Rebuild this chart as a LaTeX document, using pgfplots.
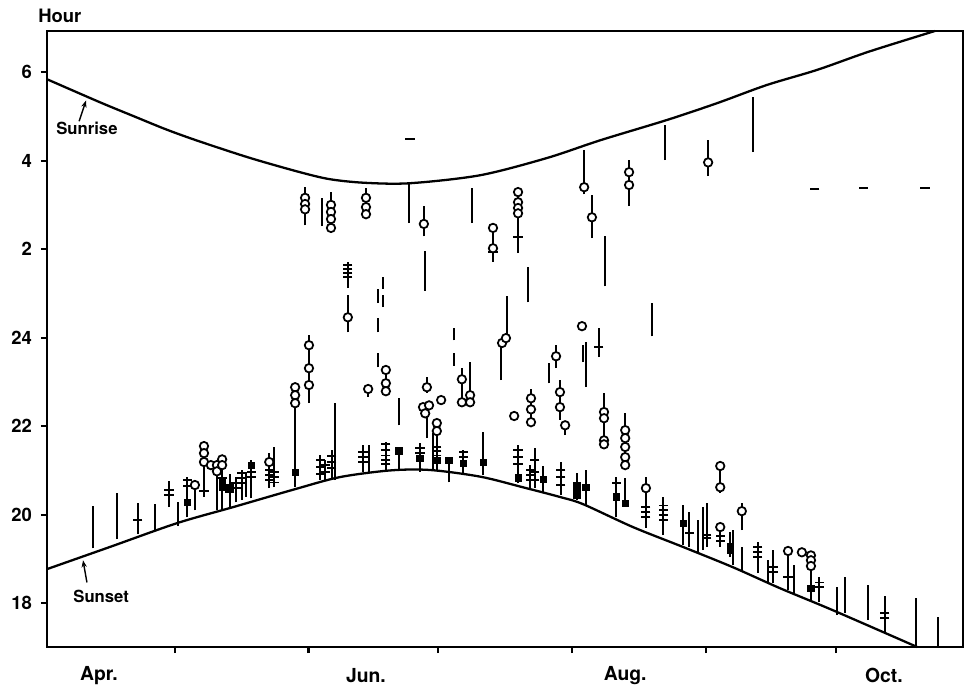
\documentclass[border=0pt]{standalone}
\usepackage{fontspec}
\setmainfont{TeX Gyre Heros}
\usepackage{pgfplots}
\pgfplotsset{compat=1.18}
\usepackage{pgfplotstable}
\usetikzlibrary{arrows.meta}

% x: days after 1 April, y: hour of day (26 = 2 h, 30 = 6 h next morning)
\pgfplotstableread{
d lo hi
11.1 19.24 20.19
16.7 19.45 20.49
21.5 19.56 20.26
25.5 19.63 20.24
28.7 20.17 20.76
30.8 19.74 20.28
32.9 19.94 20.85
34.7 20.10 20.67
36.8 20.40 21.55
39.8 20.10 21.12
41.0 20.10 21.25
42.8 20.15 20.92
44.2 20.28 20.85
45.6 20.33 21.01
46.5 20.40 20.96
47.7 20.37 21.23
51.9 20.60 21.39
53.0 20.62 21.53
57.9 20.62 22.88
60.2 26.54 27.40
61.1 22.52 24.06
63.7 20.78 21.34
64.1 26.52 27.16
64.8 20.78 21.23
66.2 26.38 27.29
66.4 20.83 21.46
67.1 20.78 22.52
70.1 25.12 25.71
70.1 24.12 24.96
73.6 20.96 21.57
74.3 26.72 27.38
74.8 22.66 22.84
75.0 20.94 21.57
77.1 24.78 25.10
77.1 24.12 24.44
77.1 23.33 23.65
78.2 25.10 25.37
78.2 24.69 24.96
78.9 21.01 21.64
78.9 22.77 23.36
81.9 21.01 21.44
81.9 22.02 22.63
84.3 26.59 27.49
86.8 20.96 21.62
87.7 26.29 26.97
88.0 25.06 25.95
88.4 21.73 22.29
88.4 22.75 23.11
89.8 21.01 21.84
90.7 21.01 22.07
93.5 20.73 21.23
94.7 23.94 24.21
94.7 23.36 23.65
96.5 22.52 23.31
96.8 20.89 21.46
98.4 22.52 23.45
98.8 26.59 27.38
101.4 20.89 21.86
103.7 25.71 26.48
105.6 23.04 23.94
106.9 23.94 24.94
109.5 25.91 27.38
109.5 20.71 21.57
111.8 24.80 25.59
112.3 20.55 21.12
112.5 22.02 22.84
113.4 20.60 21.50
115.3 20.49 21.10
116.7 22.97 23.42
118.3 23.31 23.83
119.2 22.14 23.04
119.4 20.44 21.19
120.4 21.80 22.02
123.1 20.33 20.94
124.5 23.45 23.83
124.8 27.24 28.24
125.2 22.88 23.90
125.2 20.21 21.01
126.6 26.25 27.22
128.2 23.56 24.21
129.4 21.53 22.75
129.6 25.16 26.29
132.2 19.94 20.85
134.3 21.05 22.29
134.3 20.21 20.82
135.2 26.97 28.01
139.1 19.70 20.85
140.5 24.03 24.78
143.1 19.54 20.40
143.5 28.01 28.80
147.7 19.31 20.21
149.1 19.27 20.06
151.2 19.15 19.88
152.3 19.20 20.17
153.2 19.27 20.26
153.5 27.65 28.46
156.3 20.49 21.10
156.3 19.27 19.72
158.6 19.04 19.60
159.3 18.86 19.65
161.3 19.65 20.26
161.3 18.70 19.27
163.9 28.19 29.44
165.0 18.68 19.38
167.4 18.45 18.97
168.5 18.45 19.20
172.0 18.29 19.18
173.4 18.23 18.86
177.3 18.07 19.08
179.2 18.02 18.59
183.3 17.73 18.36
185.2 17.77 18.59
190.5 17.62 18.41
194.4 17.32 18.16
201.6 17.02 18.11
206.7 17.02 17.68
}\segs

\pgfplotstableread{
d h
34.7 20.67
36.8 21.55
36.8 21.39
36.8 21.19
38.4 21.12
39.8 21.12
39.8 20.98
41.0 21.25
41.0 21.12
51.9 21.19
57.9 22.88
57.9 22.70
57.9 22.52
60.2 27.16
60.2 27.02
60.2 26.90
61.1 23.83
61.1 23.31
61.1 22.93
66.2 27.00
66.2 26.84
66.2 26.68
66.2 26.48
70.1 24.46
74.3 27.16
74.3 26.95
74.3 26.79
74.8 22.84
78.9 23.27
78.9 22.97
78.9 22.79
87.5 22.43
87.7 26.57
88.0 22.29
88.4 22.88
88.9 22.47
90.7 22.07
90.7 21.89
91.7 22.59
96.5 23.06
96.5 22.54
98.4 22.70
98.4 22.54
103.7 26.48
103.7 26.02
105.8 23.88
106.7 23.99
108.6 22.23
109.5 27.29
109.5 27.06
109.5 26.93
109.5 26.81
112.5 22.63
112.5 22.38
112.5 22.09
118.3 23.58
119.2 22.77
119.2 22.43
120.4 22.02
124.3 24.26
124.8 27.40
126.6 26.72
129.4 22.32
129.4 22.18
129.4 21.68
129.4 21.59
134.3 21.91
134.3 21.73
134.3 21.53
134.3 21.30
134.3 21.12
135.2 27.74
135.2 27.45
139.1 20.60
153.5 27.96
156.3 21.10
156.3 20.62
156.3 19.72
161.3 20.08
172.0 19.18
175.2 19.15
177.3 19.08
177.3 18.97
177.3 18.84
}\circs

\pgfplotstableread{
d h
21.5 19.88
28.7 20.55
28.7 20.44
32.9 20.78
32.9 20.64
36.8 20.53
41.0 20.83
42.8 20.51
44.2 20.71
44.2 20.60
45.6 20.94
45.6 20.83
45.6 20.71
47.7 20.96
47.7 20.85
51.9 21.01
51.9 20.89
51.9 20.78
53.0 20.96
53.0 20.85
53.0 20.73
63.7 21.23
63.7 21.07
63.7 20.92
64.8 21.12
64.8 20.96
66.4 21.32
66.4 21.19
66.4 21.05
70.1 25.64
70.1 25.55
70.1 25.46
70.1 25.37
73.6 21.41
73.6 21.30
73.6 21.19
78.9 21.59
78.9 21.46
78.9 21.34
78.9 21.23
78.9 21.14
84.5 28.49
86.8 21.50
86.8 21.39
90.7 21.53
90.7 21.44
90.7 21.34
96.8 21.41
96.8 21.30
103.7 25.93
109.5 26.27
109.5 21.46
109.5 21.30
109.5 21.14
112.3 21.01
112.3 20.89
112.3 20.78
113.4 21.23
113.4 20.96
113.4 20.78
119.4 21.01
119.4 20.85
119.4 20.67
128.2 23.79
132.2 20.71
139.1 20.17
139.1 20.06
139.1 19.94
143.1 20.21
143.1 20.10
143.1 19.99
143.1 19.88
149.1 19.58
153.2 19.54
153.2 19.47
156.3 19.51
156.3 19.40
165.0 19.27
165.0 19.15
165.0 19.04
168.5 18.81
168.5 18.70
172.0 18.59
178.2 27.36
179.2 18.47
179.2 18.36
189.4 27.38
194.4 17.77
194.4 17.66
203.7 27.38
}\dashes

\pgfplotstableread{
d h
32.9 20.28
41.0 20.73
41.0 20.62
42.8 20.62
47.7 21.12
57.9 20.96
81.9 21.44
86.8 21.28
90.7 21.23
93.5 21.23
96.8 21.16
101.4 21.19
109.5 20.83
115.3 20.80
123.1 20.67
123.1 20.55
123.1 20.44
125.2 20.62
132.2 20.40
134.3 20.26
147.7 19.81
158.6 19.27
158.6 19.20
177.3 18.34
}\blocks

\begin{document}
\begin{tikzpicture}
\begin{axis}[
  scale only axis,
  width=18.32cm, height=12.32cm,
  xmin=0.46, xmax=212.5,
  ymin=17.01, ymax=30.93,
  axis line style={line width=1.6pt},
  tick style={line width=1.2pt, black},
  tick align=outside,
  xtick pos=bottom, ytick pos=left,
  major tick length=0.12cm,
  xtick={30,61,91,122,153,183},
  xticklabels={},
  ytick={18,20,22,24,26,28,30},
  yticklabels={18,20,22,24,2,4,6},
  yticklabel style={font=\fontsize{10.5}{12}\selectfont\bfseries, xshift=-0.06cm},
  /pgf/number format/assume math mode=true,
  clip=false,
]

% activity periods (vertical bars)
\addplot[draw=none, mark=none,
  error bars/.cd, y dir=plus, y explicit, error mark=none,
  error bar style={draw=black, solid, line width=1.1pt}]
  table[x=d, y=lo, y error plus expr=\thisrow{hi}-\thisrow{lo}] {\segs};

% sunrise and sunset
\addplot[smooth, black, line width=1.3pt] coordinates {
  (0.46,29.84) (12.7,29.32) (20.4,29.01) (28.2,28.70) (35.9,28.43)
  (47.5,28.06) (59.0,27.74) (66.0,27.58) (74.0,27.50) (84.5,27.49)
  (100.7,27.67) (116.2,28.06) (128.5,28.46) (144.0,28.92) (155.6,29.30)
  (167.1,29.71) (178.7,30.05) (190.3,30.45) (203.0,30.84) (206.0,30.93)
};
\addplot[smooth, black, line width=1.3pt] coordinates {
  (0.46,18.77) (15.0,19.27) (30.6,19.81) (43.5,20.17) (58.0,20.58)
  (68.3,20.85) (79.9,21.00) (89.1,21.01) (100.7,20.86) (110.6,20.62)
  (119.2,20.40) (124.5,20.24) (136.1,19.72) (147.7,19.27) (159.3,18.81)
  (170.1,18.34) (182.4,17.84) (201.9,17.01)
};

\addplot[only marks, mark=-, mark size=2.6pt, mark options={black, line width=1pt}]
  table[x=d, y=h] {\dashes};
\addplot[only marks, mark=square*, mark size=1.8pt, black]
  table[x=d, y=h] {\blocks};
\addplot[only marks, mark=*, mark size=2.4pt,
  mark options={fill=white, draw=black, line width=1pt}]
  table[x=d, y=h] {\circs};

\node[anchor=west, font=\fontsize{10.5}{12}\selectfont\bfseries] at (axis cs:-3.0,31.27) {Hour};
\node[font=\fontsize{9.5}{11}\selectfont\bfseries] at (axis cs:9.7,28.73) {Sunrise};
\draw[-{Stealth[length=4pt,width=3pt]}, line width=0.8pt] (axis cs:7.9,28.89) -- (axis cs:9.5,29.36);
\node[font=\fontsize{9.5}{11}\selectfont\bfseries] at (axis cs:13.0,18.16) {Sunset};
\draw[-{Stealth[length=4pt,width=3pt]}, line width=0.8pt] (axis cs:9.7,18.47) -- (axis cs:8.8,18.97);

\node[font=\fontsize{11}{13}\selectfont\bfseries] at (axis cs:12.5,16.37) {Apr.};
\node[font=\fontsize{11}{13}\selectfont\bfseries] at (axis cs:74.3,16.37) {Jun.};
\node[font=\fontsize{11}{13}\selectfont\bfseries] at (axis cs:134.3,16.37) {Aug.};
\node[font=\fontsize{11}{13}\selectfont\bfseries] at (axis cs:194.2,16.37) {Oct.};
\end{axis}
\pgfresetboundingbox
\path ([xshift=-0.94cm,yshift=-0.82cm]current axis.south west) rectangle ([xshift=0.14cm,yshift=0.62cm]current axis.north east);
\end{tikzpicture}
\end{document}
